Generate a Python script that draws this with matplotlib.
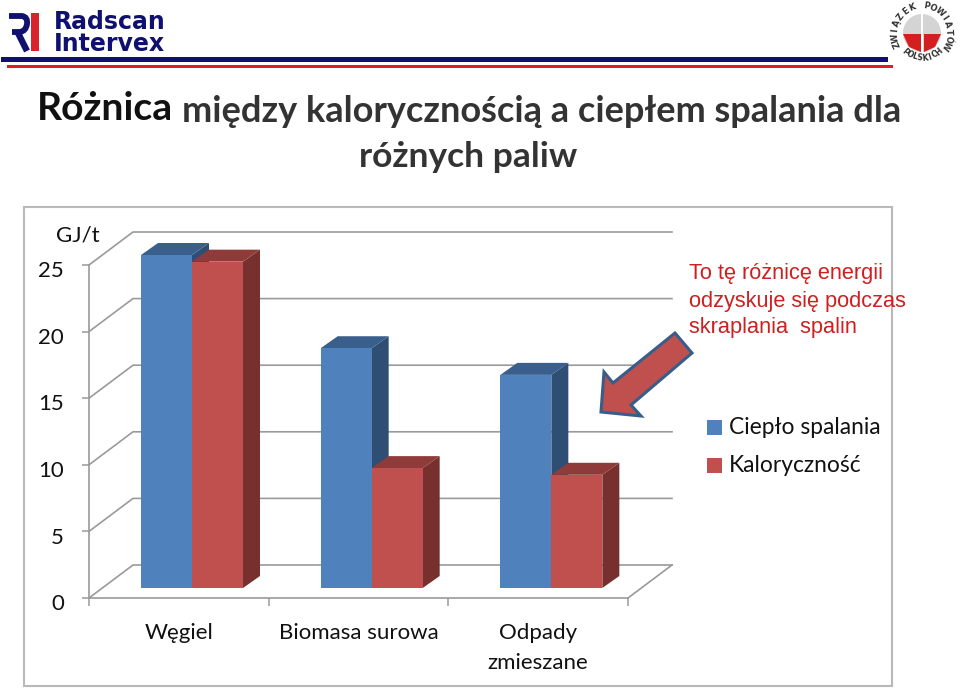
import numpy as np
import matplotlib
matplotlib.use("Agg")
import matplotlib.pyplot as plt
from matplotlib.patches import Polygon, Rectangle, Circle, PathPatch
from matplotlib.path import Path
from matplotlib.transforms import ScaledTranslation

# ======================================================
# DATA
# ======================================================

categories = ["Węgiel", "Biomasa surowa", "Odpady\nzmieszane"]
cieplo_spalania = [25.0, 18.0, 16.0]
kalorycznosc = [24.5, 9.0, 8.5]
y_ticks = [0, 5, 10, 15, 20, 25]

W, H = 960, 688
LEFT, RIGHT, BASE, TOP = 89, 628, 598, 265
PX_X = (RIGHT - LEFT) / len(categories)
PX_Y = (BASE - TOP) / 25

GRID = "#9a9a9a"
BLUE = ("#4F81BD", "#3A5F8C", "#2F4E74")
RED = ("#C0504D", "#8E3B39", "#78302E")

plt.rcParams["font.family"] = ["Lato", "DejaVu Sans"]

fig = plt.figure(figsize=(W / 100, H / 100), dpi=100, facecolor="white")

# page layer in pixels
page = fig.add_axes([0, 0, 1, 1], zorder=0)
page.set_xlim(0, W)
page.set_ylim(H, 0)
page.axis("off")

# chart layer, value scale
ax = fig.add_axes([LEFT / W, 1 - BASE / H, (RIGHT - LEFT) / W, (BASE - TOP) / H], zorder=1)
ax.set_xlim(0, len(categories))
ax.set_ylim(0, 25)
ax.patch.set_alpha(0)
for s in ["top", "right"]:
    ax.spines[s].set_visible(False)
for s in ["left", "bottom"]:
    ax.spines[s].set_color(GRID)
    ax.spines[s].set_linewidth(1.2)

ax.set_yticks(y_ticks)
ax.set_yticklabels([str(v) for v in y_ticks], fontsize=16, color="#111111")
ax.set_xticks(range(len(categories) + 1))
ax.set_xticklabels([])
ax.set_xticks([i + 0.5 for i in range(len(categories))], minor=True)
ax.set_xticklabels(categories, minor=True, fontsize=16, color="#111111", linespacing=1.6, va="top")
ax.tick_params(axis="y", length=5, width=1.1, color=GRID, pad=13)
ax.tick_params(axis="x", which="major", length=6, width=1.1, color=GRID)
ax.tick_params(axis="x", which="minor", length=0, pad=18)

# y labels sit a little below their ticks in the original
shift = ScaledTranslation(0, -3 / 72, fig.dpi_scale_trans)
for lab in ax.get_yticklabels():
    lab.set_transform(lab.get_transform() + shift)


def dx(px):
    return px / PX_X


def dy(px):
    return px / PX_Y


# back wall
for v in y_ticks:
    ax.plot([0, dx(44), len(categories) + dx(44)], [v, v + dy(33), v + dy(33)],
            color=GRID, lw=1.2, clip_on=False, zorder=1, solid_joinstyle="miter")
ax.plot([len(categories), len(categories) + dx(44)], [0, dy(33)], color=GRID, lw=1.2, clip_on=False, zorder=1)


def bar3d(x0, width, value, colors, z):
    base = dy(10)
    top = base + value
    d_x, d_y = dx(17), dy(12)
    x1 = x0 + width
    ax.add_patch(Polygon([[x1, base], [x1 + d_x, base + d_y], [x1 + d_x, top + d_y], [x1, top]],
                         fc=colors[2], ec="none", clip_on=False, zorder=z))
    ax.add_patch(Polygon([[x0, top], [x0 + d_x, top + d_y], [x1 + d_x, top + d_y], [x1, top]],
                         fc=colors[1], ec="none", clip_on=False, zorder=z))
    ax.add_patch(Rectangle((x0, base), width, value, fc=colors[0], ec="none", clip_on=False, zorder=z + 0.05))


bar_w = 51 / PX_X
start = (141 - LEFT) / PX_X
for i in range(len(categories)):
    # values are measured from the floor of the 3D box
    bar3d(i + start, bar_w, cieplo_spalania[i], BLUE, 3 + i)
    bar3d(i + start + bar_w, bar_w, kalorycznosc[i], RED, 3.2 + i)

# ======================================================
# PAGE ELEMENTS
# ======================================================

# outer frame of the chart
page.add_patch(Rectangle((24, 207), 868, 479, fc="white", ec="#b9b9b9", lw=1.5))

page.text(78, 236, "GJ/t", fontsize=16, color="#111111", ha="center", va="center")

# title
page.text(37, 109, "Różnica", fontsize=28.2, fontweight="bold", color="#111111", va="center")
page.text(182, 111, "między kalorycznością a ciepłem spalania dla", fontsize=26,
          fontweight="bold", color="#333333", va="center")
page.text(468, 157, "różnych paliw", fontsize=25.5, fontweight="bold", color="#333333", ha="center", va="center")

# header logo left
NAVY = "#10106e"
page.text(54, 22, "Radscan", family="DejaVu Sans", fontsize=17, fontweight="bold", color=NAVY, va="center")
page.text(54, 44, "Intervex", family="DejaVu Sans", fontsize=17, fontweight="bold", color=NAVY, va="center")
r_bowl = Path([(9, 16), (22, 16), (28, 17), (27, 24), (26, 31), (20, 32), (12, 32)],
              [Path.MOVETO, Path.LINETO, Path.CURVE3, Path.CURVE3, Path.CURVE3, Path.CURVE3, Path.LINETO])
page.add_patch(PathPatch(r_bowl, fc="none", ec=NAVY, lw=4.2, capstyle="butt"))
page.plot([17, 27], [31, 51], color=NAVY, lw=4.6, solid_capstyle="butt")
page.add_patch(Rectangle((31, 13), 8, 38, fc="#d8232a", ec="none"))
page.add_patch(Rectangle((1, 57), 887, 5, fc=NAVY, ec="none"))
page.add_patch(Rectangle((7, 65), 886, 3, fc="#e01b22", ec="none"))

# header logo right
cx, cy = 922, 33
page.add_patch(Circle((cx, cy), 19, fc="#d4d4d4", ec="none"))
page.add_patch(Polygon([[cx - 19, cy + 1], [cx - 1, cy + 1], [cx - 1, cy + 19], [cx - 13, cy + 14]], fc="#d3201f", ec="none"))
page.add_patch(Polygon([[cx + 19, cy + 1], [cx + 2, cy + 1], [cx + 2, cy + 19], [cx + 13, cy + 14]], fc="#d3201f", ec="none"))
page.plot([cx, cx], [cy - 20, cy + 20], color="white", lw=1.4)
ring = "ZWIĄZEK POWIATÓW"
for ch, ang in zip(ring, np.linspace(205, -28, len(ring))):
    a = np.radians(ang)
    page.text(cx + 27 * np.cos(a), cy - 27 * np.sin(a), ch, family="DejaVu Sans", fontsize=6,
              fontweight="bold", color="#333333", ha="center", va="center", rotation=ang - 90)
ring2 = "POLSKICH"
for ch, ang in zip(ring2, np.linspace(228, 312, len(ring2))):
    a = np.radians(ang)
    page.text(cx + 25 * np.cos(a), cy - 25 * np.sin(a), ch, family="DejaVu Sans", fontsize=5.5,
              fontweight="bold", color="#333333", ha="center", va="center", rotation=ang + 90)

# annotation
arrow = fig.add_axes([0, 0, 1, 1], zorder=3)
arrow.set_xlim(0, W)
arrow.set_ylim(H, 0)
arrow.axis("off")
for y, line in zip([274, 301, 327], ["To tę różnicę energii", "odzyskuje się podczas", "skraplania  spalin"]):
    arrow.text(689, y, line, family="Liberation Sans", fontsize=15.7, color="#d01f1f", va="center")

arrow.add_patch(Polygon([[601, 412], [604, 372], [613, 383], [675, 333], [692, 353], [631, 405], [641, 416]],
                        fc="#C0504D", ec="#385D8A", lw=2.2, joinstyle="miter"))

# legend
arrow.add_patch(Rectangle((707, 420), 15, 15, fc=BLUE[0], ec="none"))
arrow.add_patch(Rectangle((707, 458), 15, 15, fc=RED[0], ec="none"))
arrow.text(729, 428, "Ciepło spalania", fontsize=16.4, color="#111111", va="center")
arrow.text(729, 466, "Kaloryczność", fontsize=16.4, color="#111111", va="center")

fig.savefig("out.png", dpi=100)
